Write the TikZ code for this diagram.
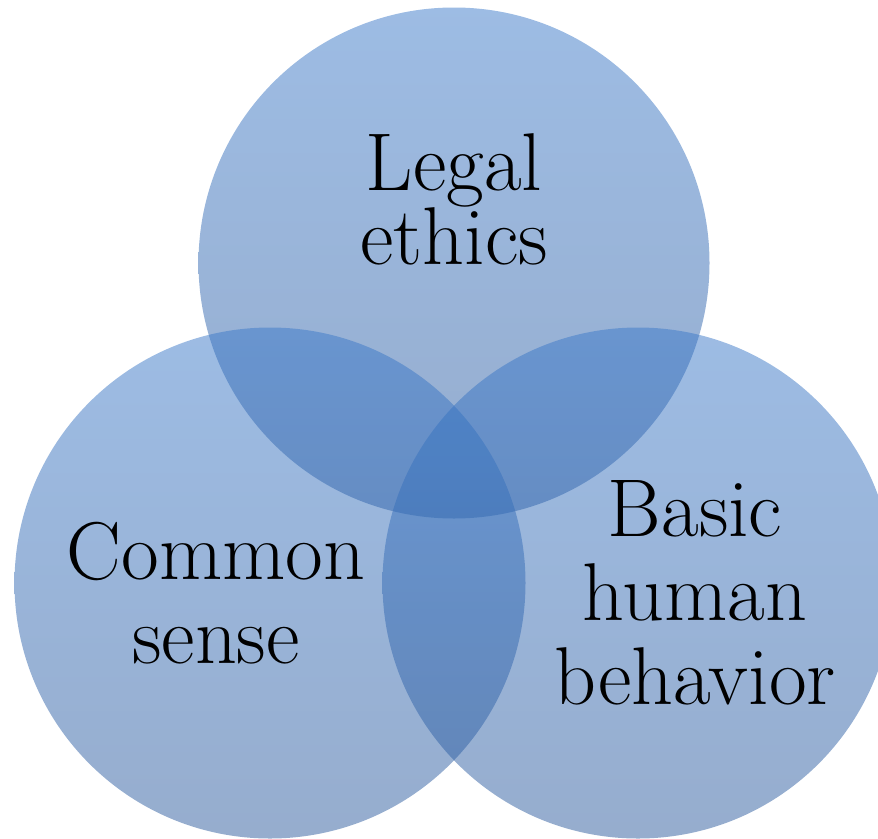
\documentclass[tikz,border=0pt]{standalone}
\usepackage{fontspec}
\definecolor{ventop}{RGB}{59,121,201}
\definecolor{venbottom}{RGB}{45,91,157}
\tikzset{
    venn circle/.style={circle, inner sep=0pt, minimum size=511pt,
        top color=ventop, bottom color=venbottom, fill opacity=0.5, draw=none},
    venn label/.style={align=center, text=black,
        font=\fontsize{82}{84}\selectfont}
}
\begin{document}
\begin{tikzpicture}[x=1pt, y=-1pt]
    \useasboundingbox (0,0) rectangle (878,838);
    \clip (0,0) rectangle (878,838);

    % three sets
    \node[venn circle] (legal)  at (454,263) {};
    \node[venn circle] (common) at (270,583) {};
    \node[venn circle] (basic)  at (638,583) {};

    % labels
    \node[venn label, font=\fontsize{82}{74}\selectfont] (legaltxt) at (454,199) {Legal\\ethics};
    \node[venn label] (commontxt) at (216,593) {Common\\sense};
    \node[venn label] (basictxt)  at (695,593) {Basic\\human\\behavior};
\end{tikzpicture}
\end{document}
